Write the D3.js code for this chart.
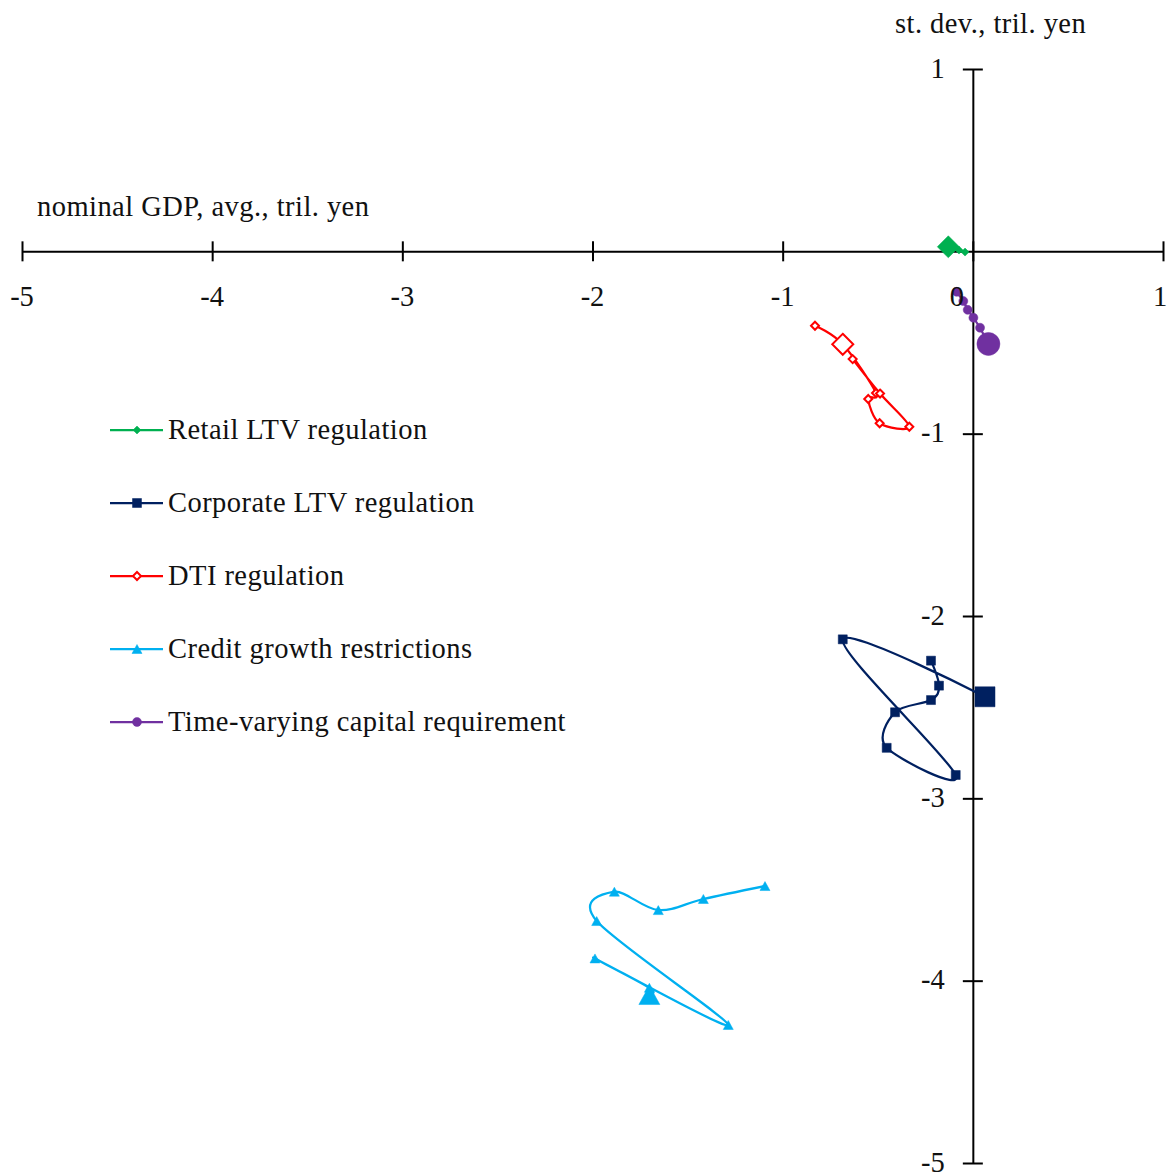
<!DOCTYPE html>
<html><head><meta charset="utf-8">
<script src="https://cdn.jsdelivr.net/npm/d3@7"></script>
<style>
html,body{margin:0;padding:0;background:#fff;}
text{font-family:"Liberation Serif","Times New Roman",serif;fill:#111;}
</style></head>
<body><svg id="chart" width="1167" height="1173"></svg>
<script>
// ---- data ----
const seriesNames = ["Retail LTV regulation","Corporate LTV regulation","DTI regulation","Credit growth restrictions","Time-varying capital requirement"];
const xTicks = [-5,-4,-3,-2,-1,0,1];
const yTicks = [1,-1,-2,-3,-4,-5];
const xTitle = "nominal GDP, avg., tril. yen";
const yTitle = "st. dev., tril. yen";

const retailX = [-0.041,-0.073,-0.129];
const retailY = [-0.004, 0.007, 0.025];
const retailBig = 2;

const corpX = [-0.220,-0.178,-0.220,-0.409,-0.453,-0.090,-0.684, 0.064];
const corpY = [-2.245,-2.382,-2.461,-2.528,-2.723,-2.872,-2.128,-2.443];
const corpBig = 7;

const dtiX = [-0.830,-0.684,-0.509,-0.550,-0.490,-0.334,-0.488,-0.632];
const dtiY = [-0.408,-0.510,-0.777,-0.810,-0.943,-0.962,-0.780,-0.591];
const dtiBig = 1;

const creditX = [-1.093,-1.417,-1.654,-1.885,-1.978,-1.286,-1.987,-1.701,-1.701];
const creditY = [-3.481,-3.552,-3.613,-3.512,-3.673,-4.243,-3.878,-4.039,-4.079];
const creditBig = 8;

const capX = [-0.085,-0.050,-0.027, 0.003, 0.038, 0.082];
const capY = [-0.222,-0.273,-0.321,-0.364,-0.419,-0.508];
const capBig = 5;

// ---- styles ----
const styles = [
  {color:"#00B050", shape:"diamond", small:8, big:22, open:false, smooth:false},
  {color:"#002060", shape:"square", small:9, big:20, open:false, smooth:true},
  {color:"#FF0000", shape:"diamond", small:8, big:21, open:true, smooth:true},
  {color:"#00B0F0", shape:"triangle", small:10, big:21, open:false, smooth:true},
  {color:"#7030A0", shape:"circle", small:9, big:23, open:false, smooth:false}
];
const seriesData = [
  {xs:retailX, ys:retailY, big:retailBig},
  {xs:corpX, ys:corpY, big:corpBig},
  {xs:dtiX, ys:dtiY, big:dtiBig},
  {xs:creditX, ys:creditY, big:creditBig},
  {xs:capX, ys:capY, big:capBig}
];

const svg = d3.select("#chart");
const x = d3.scaleLinear().domain([-5,1]).range([22,1163]);
const y = d3.scaleLinear().domain([-5,1]).range([1163,69]);
const FS = 28.5;
const LS = "0.45px";

function markerPath(shape, w){
  const h = w/2;
  if(shape==="diamond") return `M0,${-h}L${h},0L0,${h}L${-h},0Z`;
  if(shape==="square") return `M${-h},${-h}H${h}V${h}H${-h}Z`;
  if(shape==="triangle") { const t=h*0.9; return `M0,${-t}L${h},${t}L${-h},${t}Z`; }
  return d3.arc()({innerRadius:0,outerRadius:h,startAngle:0,endAngle:2*Math.PI});
}

// ---- axes ----
const xAxisG = svg.append("g").attr("transform",`translate(0,${y(0)})`)
  .call(d3.axisBottom(x).tickValues(xTicks).tickSize(10).tickSizeOuter(0).tickFormat(""));
xAxisG.select(".domain").attr("stroke","#000").attr("stroke-width",2);
xAxisG.selectAll(".tick line").attr("y1",-10).attr("y2",10).attr("stroke","#000").attr("stroke-width",2);

const yAxisG = svg.append("g").attr("transform",`translate(${x(0)},0)`)
  .call(d3.axisLeft(y).tickValues(yTicks).tickSize(10).tickSizeOuter(0).tickFormat(""));
yAxisG.select(".domain").attr("stroke","#000").attr("stroke-width",2);
yAxisG.selectAll(".tick line").attr("x1",-10).attr("x2",10).attr("stroke","#000").attr("stroke-width",2);

// ---- series ----
seriesData.forEach((s,i)=>{
  const st = styles[i];
  const pts = s.xs.map((v,j)=>[x(v), y(s.ys[j])]);
  const line = d3.line().curve(st.smooth ? d3.curveCardinal.tension(0) : d3.curveLinear);
  svg.append("path").attr("d", line(pts)).attr("fill","none")
    .attr("stroke", st.color).attr("stroke-width",2.25);
  const g = svg.append("g");
  pts.forEach((p,j)=>{
    const w = j===s.big ? st.big : st.small;
    g.append("path").attr("d", markerPath(st.shape,w))
      .attr("transform",`translate(${p[0]},${p[1]})`)
      .attr("fill", st.open ? "#fff" : st.color)
      .attr("stroke", st.color).attr("stroke-width", st.open ? 2 : 0.5);
  });
});

// ---- tick labels ----
svg.append("g").selectAll("text").data(xTicks).join("text")
  .attr("x", d => x(d) + (d===0 ? -16 : (d===1 ? -3 : 0)))
  .attr("y", y(0)+55)
  .attr("text-anchor","middle").attr("font-size",FS)
  .text(d => d);
svg.append("g").selectAll("text").data(yTicks).join("text")
  .attr("x", x(0)-28).attr("y", d => y(d)).attr("dy","0.3em")
  .attr("text-anchor","end").attr("font-size",FS)
  .text(d => d);

// ---- axis titles ----
svg.append("text").attr("x",37).attr("y",216).attr("font-size",FS).attr("letter-spacing",LS).text(xTitle);
svg.append("text").attr("x",895).attr("y",33).attr("font-size",FS).attr("letter-spacing",LS).text(yTitle);

// ---- legend ----
const legY0 = 430, legStep = 73;
seriesNames.forEach((name,i)=>{
  const st = styles[i];
  const ly = legY0 + i*legStep;
  const g = svg.append("g");
  g.append("line").attr("x1",110).attr("x2",163).attr("y1",ly).attr("y2",ly)
    .attr("stroke",st.color).attr("stroke-width",2.25);
  g.append("path").attr("d", markerPath(st.shape, st.small))
    .attr("transform",`translate(137,${ly})`)
    .attr("fill", st.open ? "#fff" : st.color)
    .attr("stroke", st.color).attr("stroke-width", st.open ? 2 : 0.5);
  g.append("text").attr("x",168).attr("y",ly).attr("dy","0.3em")
    .attr("font-size",FS).attr("letter-spacing",LS).text(name);
});
</script></body></html>
